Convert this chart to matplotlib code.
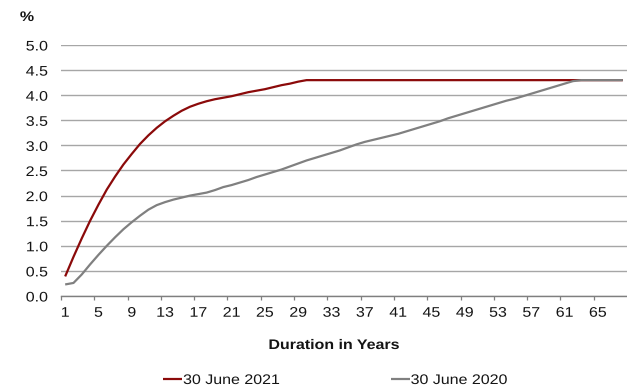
import matplotlib
matplotlib.use("Agg")
import matplotlib.pyplot as plt
import matplotlib.patheffects as pe
from matplotlib.transforms import Affine2D
from matplotlib.ticker import FixedLocator, NullFormatter

plt.rcParams['font.family'] = ['Liberation Sans', 'DejaVu Sans']

# Duration buckets (years) and discount-rate curves (%)
durations = list(range(1, 69))

curve_2021 = [
    0.39, 0.78, 1.15, 1.50, 1.82, 2.12, 2.38, 2.62, 2.83, 3.03,
    3.20, 3.35, 3.48, 3.59, 3.69, 3.77, 3.83, 3.88, 3.92, 3.95,
    3.98, 4.02, 4.06, 4.09, 4.12, 4.16, 4.20, 4.23, 4.27, 4.30,
    4.30, 4.30, 4.30, 4.30, 4.30, 4.30, 4.30, 4.30, 4.30, 4.30,
    4.30, 4.30, 4.30, 4.30, 4.30, 4.30, 4.30, 4.30, 4.30, 4.30,
    4.30, 4.30, 4.30, 4.30, 4.30, 4.30, 4.30, 4.30, 4.30, 4.30,
    4.30, 4.30, 4.30, 4.30, 4.30, 4.30, 4.30, 4.30,
]

curve_2020 = [
    0.23, 0.26, 0.43, 0.63, 0.82, 1.00, 1.17, 1.33, 1.47, 1.60,
    1.72, 1.81, 1.87, 1.92, 1.96, 2.00, 2.03, 2.06, 2.11, 2.17,
    2.21, 2.26, 2.31, 2.37, 2.42, 2.47, 2.52, 2.58, 2.64, 2.70,
    2.75, 2.80, 2.85, 2.90, 2.96, 3.02, 3.07, 3.11, 3.15, 3.19,
    3.23, 3.28, 3.33, 3.38, 3.43, 3.48, 3.54, 3.59, 3.64, 3.69,
    3.74, 3.79, 3.84, 3.89, 3.93, 3.98, 4.03, 4.08, 4.13, 4.18,
    4.23, 4.28, 4.30, 4.30, 4.30, 4.30, 4.30, 4.30,
]

series_labels = ["30 June 2021", "30 June 2020"]
series_colors = ["#8b0a0a", "#808080"]

x_tick_labels = [str(d) for d in range(1, 66, 4)]
y_ticks = [0.0, 0.5, 1.0, 1.5, 2.0, 2.5, 3.0, 3.5, 4.0, 4.5, 5.0]

FS = 10
TEXT_COLOR = '#141414'


class WideText(pe.AbstractPathEffect):
    """Draw text horizontally widened around a fixed anchor (0=left, 0.5=centre, 1=right)."""

    def __init__(self, sx=1.15, anchor=0.5):
        super().__init__()
        self.sx = sx
        self.anchor = anchor

    def draw_path(self, renderer, gc, tpath, affine, rgbFace=None):
        ext = tpath.get_extents()
        cx = ext.x0 + self.anchor * ext.width
        widen = Affine2D().translate(-cx, 0).scale(self.sx, 1.0).translate(cx, 0)
        renderer.draw_path(gc, tpath, widen + affine, rgbFace)


W, H = 627, 389
fig = plt.figure(figsize=(W / 100, H / 100), dpi=100)
ax = fig.add_axes([61 / W, 1 - 296 / H, 566 / W, 251 / H])

l1, = ax.plot(durations, curve_2021, color=series_colors[0], lw=1.6,
              label=series_labels[0], solid_capstyle='butt', zorder=3)
l2, = ax.plot(durations, curve_2020, color=series_colors[1], lw=1.6,
              label=series_labels[1], solid_capstyle='butt', zorder=4)

ax.set_xlim(0.5, len(durations) + 0.5)
ax.set_ylim(0, 5.0)

# Category axis: labels at bucket centres, tick marks on bucket edges
ax.xaxis.set_major_locator(FixedLocator(list(range(1, 66, 4))))
ax.set_xticklabels(x_tick_labels)
ax.xaxis.set_minor_locator(FixedLocator([0.5 + 4 * i for i in range(17)]))
ax.xaxis.set_minor_formatter(NullFormatter())
ax.tick_params(axis='x', which='major', length=0, pad=7.0,
               labelsize=FS, labelcolor=TEXT_COLOR)
ax.tick_params(axis='x', which='minor', length=3.2, width=0.9,
               direction='out', color='#7f7f7f')

ax.set_yticks(y_ticks)
ax.set_yticklabels([f"{v:.1f}" for v in y_ticks])
ax.tick_params(axis='y', length=0, pad=9.5, labelsize=FS, labelcolor=TEXT_COLOR)

for lab in ax.get_xticklabels():
    lab.set_path_effects([WideText(anchor=0.5)])
for lab in ax.get_yticklabels():
    lab.set_path_effects([WideText(anchor=1.0)])

ax.yaxis.grid(True, color='#a6a6a6', lw=1.0)
ax.set_axisbelow(True)
for side in ('left', 'right', 'top'):
    ax.spines[side].set_visible(False)
ax.spines['bottom'].set_color('#7f7f7f')
ax.spines['bottom'].set_linewidth(1.0)
ax.spines['bottom'].set_zorder(5)

fig.text(27 / W, 1 - 17 / H, "%", fontsize=FS, fontweight='bold',
         ha='center', va='center', color=TEXT_COLOR,
         path_effects=[WideText(anchor=0.5)])
fig.text(334 / W, 1 - 345 / H, "Duration in Years", fontsize=FS,
         fontweight='bold', ha='center', va='center', color=TEXT_COLOR,
         path_effects=[WideText(anchor=0.5)])

leg = fig.legend(handles=[l1, l2], loc='center left',
                 bbox_to_anchor=(163 / W, 1 - 380 / H),
                 ncol=2, frameon=False, fontsize=FS, handlelength=1.37,
                 handletextpad=0.08, columnspacing=8.85, borderpad=0,
                 borderaxespad=0, labelcolor=TEXT_COLOR)
for t in leg.get_texts():
    t.set_path_effects([WideText(anchor=0.0)])

fig.savefig("out.png", dpi=100)
